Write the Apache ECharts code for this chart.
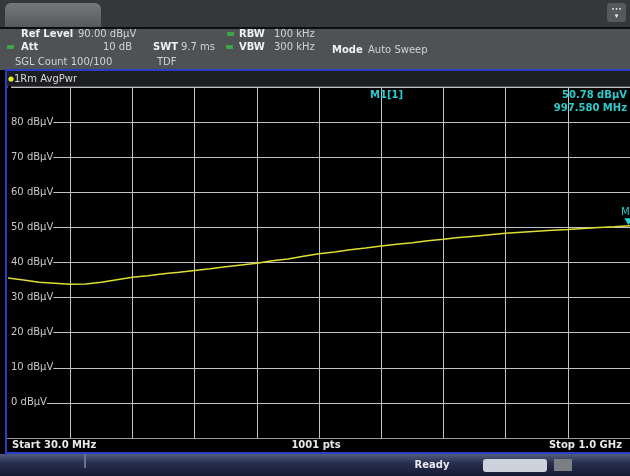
<!DOCTYPE html>
<html>
<head>
<meta charset="utf-8">
<script src="https://cdn.jsdelivr.net/npm/echarts@6/dist/echarts.min.js"></script>
<style>
  html, body { margin: 0; padding: 0; background: #000; }
  #chart { width: 630px; height: 476px; }
</style>
</head>
<body>
<div id="chart"></div>
<script>
// trace 1 (AvgPwr)
const freqMHz = [30, 54.25, 78.5, 102.75, 127, 151.25, 175.5, 199.75, 224, 248.25,
  272.5, 296.75, 321, 345.25, 369.5, 393.75, 418, 442.25, 466.5, 490.75,
  515, 539.25, 563.5, 587.75, 612, 636.25, 660.5, 684.75, 709, 733.25,
  757.5, 781.75, 806, 830.25, 854.5, 878.75, 903, 927.25, 951.5, 975.75, 1000];
const levelDbuv = [35.6, 35.0, 34.4, 34.1, 33.8, 33.9, 34.4, 35.1, 35.8, 36.2,
  36.8, 37.2, 37.7, 38.2, 38.8, 39.3, 39.8, 40.5, 41.0, 41.8,
  42.5, 43.0, 43.6, 44.1, 44.7, 45.2, 45.6, 46.2, 46.6, 47.1,
  47.5, 47.9, 48.3, 48.6, 48.9, 49.2, 49.4, 49.7, 50.0, 50.2, 50.5];

const refLevel = 90;
const levelMin = -10;
const startMHz = 30;
const stopMHz = 1000;
const marker1 = [997.58, 50.78];

const FONT = '"DejaVu Sans", sans-serif';
const BLUE = '#2a3cc8';
const CYAN = '#2ccaca';

function txt(x, y, s, opt) {
  opt = opt || {};
  return {
    type: 'text', x: x, y: y, z: 10,
    style: {
      text: s,
      fill: opt.fill || '#d2d2d2',
      font: (opt.bold ? 'bold ' : '') + (opt.size || 10) + 'px ' + FONT,
      align: opt.align || 'left',
      verticalAlign: 'middle'
    }
  };
}

const chart = echarts.init(document.getElementById('chart'));

const option = {
  backgroundColor: '#000',
  animation: false,
  grid: {
    left: 8, right: 0, top: 87, bottom: 38,
    show: true, backgroundColor: '#000', borderWidth: 0
  },
  xAxis: {
    type: 'value',
    min: startMHz, max: stopMHz,
    interval: (stopMHz - startMHz) / 10,
    axisLine: { show: false },
    axisTick: { show: false },
    axisLabel: { show: false },
    splitLine: { showMinLine: false, lineStyle: { color: '#c2c2c2', width: 1 } }
  },
  yAxis: {
    type: 'value',
    min: levelMin, max: refLevel, interval: 10,
    axisLine: { show: false },
    axisTick: { show: false },
    axisLabel: {
      inside: true, margin: 0,
      color: '#c8c8c8', fontFamily: 'DejaVu Sans', fontSize: 10,
      backgroundColor: '#000', padding: [1, 0, 1, 3],
      formatter: v => (v >= refLevel || v <= levelMin) ? '' : v + ' dBµV'
    },
    splitLine: { lineStyle: { color: '#c2c2c2', width: 1 } }
  },
  series: [{
    type: 'line',
    data: freqMHz.map((f, i) => [f, levelDbuv[i]]),
    showSymbol: false,
    lineStyle: { color: '#dede32', width: 1.5 },
    markPoint: {
      symbol: 'triangle', symbolRotate: 180, symbolSize: [8, 7],
      symbolOffset: [0, -3],
      itemStyle: { color: '#20dada' },
      label: {
        show: true, position: 'top', distance: 1, formatter: 'M1',
        color: CYAN, fontFamily: 'DejaVu Sans', fontSize: 10
      },
      data: [{ coord: marker1 }]
    }
  }],
  graphic: [
    // top bar with tab
    { type: 'rect', shape: { x: 0, y: 0, width: 630, height: 28 }, style: { fill: '#35383b' } },
    { type: 'rect', shape: { x: 5, y: 3, width: 96, height: 25, r: [6, 6, 0, 0] },
      style: { fill: new echarts.graphic.LinearGradient(0, 0, 0, 1, [
        { offset: 0, color: '#75787b' }, { offset: 1, color: '#56595c' }]) } },
    txt(53, 15, '· · · · · ·', { fill: '#8d9093', size: 7, align: 'center' }),
    { type: 'rect', shape: { x: 0, y: 27, width: 630, height: 2 }, style: { fill: '#0e0e0e' } },
    { type: 'rect', shape: { x: 607, y: 3, width: 19, height: 19, r: 3 }, style: { fill: '#56595c' } },
    txt(616.5, 9, '•••', { fill: '#f0f0f0', size: 6, align: 'center' }),
    txt(616.5, 16, '▾', { fill: '#f0f0f0', size: 7, align: 'center' }),
    // setting panel
    { type: 'rect', shape: { x: 0, y: 29, width: 630, height: 41 }, style: { fill: '#4f5255' } },
    { type: 'rect', shape: { x: 7, y: 45, width: 7, height: 4 }, style: { fill: '#3fa34a' } },
    { type: 'rect', shape: { x: 227, y: 32, width: 7, height: 4 }, style: { fill: '#3fa34a' } },
    { type: 'rect', shape: { x: 226, y: 45, width: 7, height: 4 }, style: { fill: '#3fa34a' } },
    txt(21, 34, 'Ref Level', { bold: true, fill: '#f0f0f0' }),
    txt(78, 34, '90.00 dBµV'),
    txt(21, 47, 'Att', { bold: true, fill: '#f0f0f0' }),
    txt(132, 47, '10 dB', { align: 'right' }),
    txt(15, 62, 'SGL Count 100/100'),
    txt(153, 47, 'SWT', { bold: true, fill: '#f0f0f0' }),
    txt(181, 47, '9.7 ms'),
    txt(157, 62, 'TDF'),
    txt(239, 34, 'RBW', { bold: true, fill: '#f0f0f0' }),
    txt(274, 34, '100 kHz'),
    txt(239, 47, 'VBW', { bold: true, fill: '#f0f0f0' }),
    txt(274, 47, '300 kHz'),
    txt(332, 50, 'Mode', { bold: true, fill: '#f0f0f0' }),
    txt(368, 50, 'Auto Sweep'),
    // trace label strip
    { type: 'rect', shape: { x: 5, y: 69, width: 625, height: 2 }, style: { fill: BLUE } },
    { type: 'rect', shape: { x: 7, y: 71, width: 623, height: 16 }, style: { fill: '#1c1e21' } },
    { type: 'rect', shape: { x: 7, y: 86.5, width: 623, height: 1 }, style: { fill: '#8a8a8a' } },
    { type: 'circle', shape: { cx: 11, cy: 79, r: 2.6 }, style: { fill: '#ecec22' }, z: 10 },
    txt(14, 79, '1Rm AvgPwr', { fill: '#d8d8d8' }),
    // marker readout
    txt(370, 95, 'M1[1]', { bold: true, fill: CYAN }),
    txt(627, 95, marker1[1].toFixed(2) + ' dBµV', { bold: true, fill: CYAN, align: 'right' }),
    txt(627, 108, marker1[0].toFixed(3) + ' MHz', { bold: true, fill: CYAN, align: 'right' }),
    // frame borders
    { type: 'rect', shape: { x: 5, y: 69, width: 2, height: 386 }, style: { fill: BLUE }, z: 10 },
    { type: 'rect', shape: { x: 7, y: 438, width: 623, height: 1 }, style: { fill: '#9a9a9a' }, z: 10 },
    // span footer
    txt(12, 445, 'Start 30.0 MHz', { bold: true, fill: '#e8e8e8' }),
    txt(316, 445, '1001 pts', { bold: true, fill: '#e8e8e8', align: 'center' }),
    txt(622, 445, 'Stop 1.0 GHz', { bold: true, fill: '#e8e8e8', align: 'right' }),
    { type: 'rect', shape: { x: 5, y: 452, width: 625, height: 2 }, style: { fill: BLUE } },
    // status bar
    { type: 'rect', shape: { x: 0, y: 454, width: 630, height: 22 },
      style: { fill: new echarts.graphic.LinearGradient(0, 0, 0, 1, [
        { offset: 0, color: '#555d7e' }, { offset: 0.4, color: '#283050' }, { offset: 1, color: '#151a32' }]) } },
    { type: 'rect', shape: { x: 84, y: 454, width: 2, height: 14 }, style: { fill: '#6a7290' } },
    txt(432, 465, 'Ready', { bold: true, fill: '#e8eaf0', align: 'center' }),
    { type: 'rect', shape: { x: 483, y: 459, width: 64, height: 13, r: 3 }, style: { fill: '#cdd2dc' } },
    { type: 'rect', shape: { x: 554, y: 459, width: 18, height: 12 }, style: { fill: '#7b7e82' } }
  ]
};

chart.setOption(option);
</script>
</body>
</html>
